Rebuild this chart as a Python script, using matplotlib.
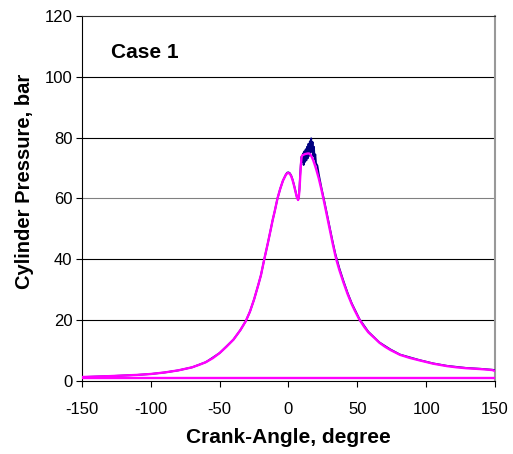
import matplotlib.pyplot as plt

plt.rcParams['font.family'] = ['Liberation Sans', 'DejaVu Sans']
plt.rcParams['axes.unicode_minus'] = False

# Compression / expansion stroke, simulated pressure (bar)
sim_ca = [-150, -140, -130, -120, -110, -100, -90, -80, -70, -65,
          -60, -55, -50, -45, -40, -35, -31, -28, -25, -22,
          -20, -17.6, -15, -13, -11.5, -10, -8, -6, -4, -2,
          -1, 0, 1, 2, 3, 4, 5, 6, 7, 7.5,
          8, 8.5, 9, 9.5, 10, 12, 14, 15, 16, 17,
          18, 19, 20, 22, 24, 26, 28, 30, 32, 34,
          35, 37, 40, 43, 46, 48, 51.5, 55, 58, 62.8,
          66, 70, 74, 81, 88, 95, 105, 115, 122, 129,
          140, 148, 150]
sim_p = [1.3, 1.45, 1.6, 1.8, 2.0, 2.3, 2.8, 3.5, 4.5, 5.3,
         6.2, 7.5, 9.2, 11.3, 13.6, 16.7, 19.7, 22.8, 26.8, 31.5,
         34.8, 40.0, 45.3, 49.6, 52.9, 55.8, 60.0, 63.2, 65.9, 67.7,
         68.3, 68.4, 68.1, 67.3, 66.0, 64.3, 62.4, 60.5, 59.5, 60.5,
         63.0, 67.0, 71.0, 73.5, 74.2, 74.6, 74.8, 74.8, 74.4, 73.6,
         72.5, 71.2, 69.8, 66.6, 62.8, 58.6, 54.2, 49.8, 45.4, 41.3,
         39.5, 36.4, 32.3, 28.5, 25.2, 23.3, 20.2, 17.8, 16.0, 14.0,
         12.6, 11.3, 10.2, 8.6, 7.6, 6.8, 5.7, 4.9, 4.5, 4.2,
         3.9, 3.6, 3.3]

# Measured pressure, noisy around the peak
meas_ca = [-150, -130, -110, -100, -90, -80, -70, -60, -50, -40,
           -35, -31, -28, -25, -22, -20, -17.6, -15, -13, -11.5,
           -10, -8, -6, -4, -2, -1, 0, 1, 2, 3,
           4, 5, 6, 7, 7.5, 8, 8.5, 9, 9.5, 10,
           10.5, 11, 11.5, 12, 12.5, 13, 13.5, 14, 14.5, 15,
           15.5, 16, 16.5, 17, 17.5, 18, 18.5, 19, 19.5, 20,
           21, 22, 24, 26, 28, 30, 32, 34, 37, 40,
           43, 46, 51.5, 58, 66, 74, 81, 95, 105, 115,
           129, 140, 148, 150]
meas_p = [1.3, 1.6, 2.0, 2.3, 2.8, 3.5, 4.5, 6.2, 9.2, 13.6,
          16.7, 19.7, 22.8, 26.8, 31.5, 34.8, 40.0, 45.3, 49.6, 52.9,
          55.8, 60.0, 63.2, 65.9, 67.8, 68.5, 68.6, 68.3, 67.5, 66.2,
          64.5, 62.6, 60.7, 59.6, 60.5, 63.5, 68.0, 71.5, 73.8, 72.0,
          74.8, 71.0, 75.5, 72.0, 76.2, 72.5, 77.0, 73.2, 78.0, 74.0,
          78.8, 75.0, 79.8, 75.5, 78.6, 74.0, 77.0, 72.8, 74.5, 71.6,
          70.8, 68.0, 63.4, 59.2, 54.8, 50.4, 46.0, 41.9, 37.0, 32.8,
          28.9, 25.5, 20.4, 16.2, 12.7, 10.4, 8.7, 6.9, 5.8, 5.0,
          4.3, 4.0, 3.7, 3.6]

# Gas exchange part of the cycle (low pressure line)
gx_ca = [150, 100, 50, 0, -50, -100, -150]
gx_meas = [1.0, 1.0, 1.0, 1.0, 1.0, 1.0, 1.0]
gx_sim = [1.1, 1.1, 1.1, 1.1, 1.1, 1.1, 1.1]

fig = plt.figure(figsize=(5.13, 4.54), dpi=100)
ax = fig.add_axes([0.1598, 0.1608, 0.8051, 0.804])

ax.plot(meas_ca, meas_p, color='#000080', lw=1.3, zorder=3)
ax.plot(gx_ca, gx_meas, color='#000080', lw=1.3, zorder=3)
ax.plot(sim_ca, sim_p, color='#FF00FF', lw=1.7, zorder=4)
ax.plot(gx_ca, gx_sim, color='#FF00FF', lw=1.7, zorder=4)

ax.set_xlim(-150, 150)
ax.set_ylim(0, 120)
ax.set_xticks(range(-150, 151, 50))
ax.set_yticks(range(0, 121, 20))

for yv in range(20, 120, 20):
    ax.axhline(yv, color='#808080' if yv == 60 else 'black', lw=0.8, zorder=1)

ax.spines['left'].set_color('black')
ax.spines['bottom'].set_color('black')
ax.spines['top'].set_color('#303030')
ax.spines['right'].set_color('#999999')
ax.spines['right'].set_linewidth(1.5)
ax.tick_params(direction='out', length=4, width=0.8, labelsize=12, pad=3)
ax.tick_params(axis='x', pad=11)

ax.set_xlabel('Crank-Angle, degree', fontsize=15, fontweight='bold')
ax.set_ylabel('Cylinder Pressure, bar', fontsize=14.5, fontweight='bold')
ax.xaxis.set_label_coords(0.5, -0.129)
ax.yaxis.set_label_coords(-0.116, 0.548)
ax.text(-104, 108, 'Case 1', fontsize=15, fontweight='bold', ha='center', va='center')

fig.savefig('out.png', dpi=100)
